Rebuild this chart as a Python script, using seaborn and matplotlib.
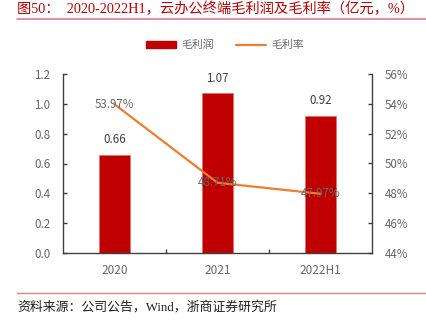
import matplotlib
matplotlib.use("Agg")
import matplotlib.pyplot as plt
import seaborn as sns
import pandas as pd
from matplotlib.lines import Line2D
from matplotlib.patches import Patch

years = ["2020", "2021", "2022H1"]
gross_profit = [0.66, 1.07, 0.92]
gross_margin = [53.97, 48.71, 47.97]
left_ticks = [0.0, 0.2, 0.4, 0.6, 0.8, 1.0, 1.2]
right_ticks = [44, 46, 48, 50, 52, 54, 56]

sns.set_theme(style="white")
plt.rcParams["font.family"] = ["Noto Sans CJK SC", "DejaVu Sans"]

BAR_C = "#C00000"
LINE_C = "#ED7D31"
GRAY = "#666666"
SPINE = "#404040"

df = pd.DataFrame({"year": years, "profit": gross_profit, "margin": gross_margin})

fig = plt.figure(figsize=(4.26, 3.25), dpi=100)
ax = fig.add_axes([63/426, 72/325, (372-63)/426, (253-74)/325])

sns.barplot(data=df, x="year", y="profit", color=BAR_C, width=0.31,
            edgecolor="#E57373", linewidth=0.6, saturation=1, ax=ax)
ax.set_xlim(-0.5, 2.5)
ax.set_ylim(0, 1.2)
ax.set_yticks(left_ticks)
ax.set_yticklabels([f"{t:.1f}" for t in left_ticks])
ax.set_xlabel("")
ax.set_ylabel("")
ax.set_xticks([0, 1, 2])
ax.set_xticks([0.5, 1.5], minor=True)

ax2 = ax.twinx()
sns.lineplot(data=df, x="year", y="margin", color=LINE_C, linewidth=1.6,
             sort=False, ax=ax2)
ax2.set_ylim(44, 56)
ax2.set_yticks(right_ticks)
ax2.set_yticklabels([f"{t}%" for t in right_ticks])
ax2.set_ylabel("")
ax2.set_xlim(-0.5, 2.5)

for a in (ax, ax2):
    for s in a.spines.values():
        s.set_visible(False)
ax.spines["left"].set_visible(True)
ax.spines["bottom"].set_visible(True)
ax2.spines["right"].set_visible(True)
for s in (ax.spines["left"], ax.spines["bottom"], ax2.spines["right"]):
    s.set_color(SPINE)
    s.set_linewidth(1.0)

ax.tick_params(axis="y", direction="in", length=3, width=1, color=SPINE,
               labelcolor=GRAY, labelsize=8.3, left=True, pad=9)
ax.tick_params(axis="x", which="major", length=0, labelcolor=GRAY,
               labelsize=8.5, pad=8)
ax.tick_params(axis="x", which="minor", direction="in", length=3, width=1,
               color=SPINE, bottom=True)
ax2.tick_params(axis="y", direction="in", length=3, width=1, color=SPINE,
                labelcolor=GRAY, labelsize=8.3, right=True, pad=9)

for i, v in enumerate(gross_profit):
    ax.annotate(f"{v:.2f}", (i, v), xytext=(0, 6), textcoords="offset points",
                ha="center", va="bottom", fontsize=8.3, color="#404040")
for i, v in enumerate(gross_margin):
    ax2.annotate(f"{v:.2f}%", (i, v), ha="center", va="center",
                 fontsize=8.3, color=GRAY)

handles = [Patch(facecolor=BAR_C, edgecolor=BAR_C),
           Line2D([0], [0], color=LINE_C, linewidth=1.6)]
fig.legend(handles, ["毛利润", "毛利率"], loc="center", ncol=2,
           bbox_to_anchor=(225/426, 1-45/325), frameon=False, fontsize=7.8,
           labelcolor=GRAY, handlelength=2.8, handleheight=0.5,
           columnspacing=2.0, handletextpad=0.5)

fig.text(17/426, 1-9/325, "图50：  2020-2022H1，云办公终端毛利润及毛利率（亿元，%）",
         ha="left", va="center", fontsize=10.3, color="#C00000",
         family=["Liberation Serif", "Noto Sans CJK SC"])
fig.add_artist(Line2D([17/426, 1.0], [1-19/325, 1-19/325],
                      color="#E08080", linewidth=1.2, transform=fig.transFigure))
fig.add_artist(Line2D([17/426, 1.0], [1-293/325, 1-293/325],
                      color="#E08080", linewidth=1.0, transform=fig.transFigure))
fig.text(17/426, 1-307/325, "资料来源：公司公告，Wind，浙商证券研究所",
         ha="left", va="center", fontsize=9.3, color="#202020",
         family=["Liberation Serif", "Noto Sans CJK SC"])

fig.savefig("out.png", dpi=100)
